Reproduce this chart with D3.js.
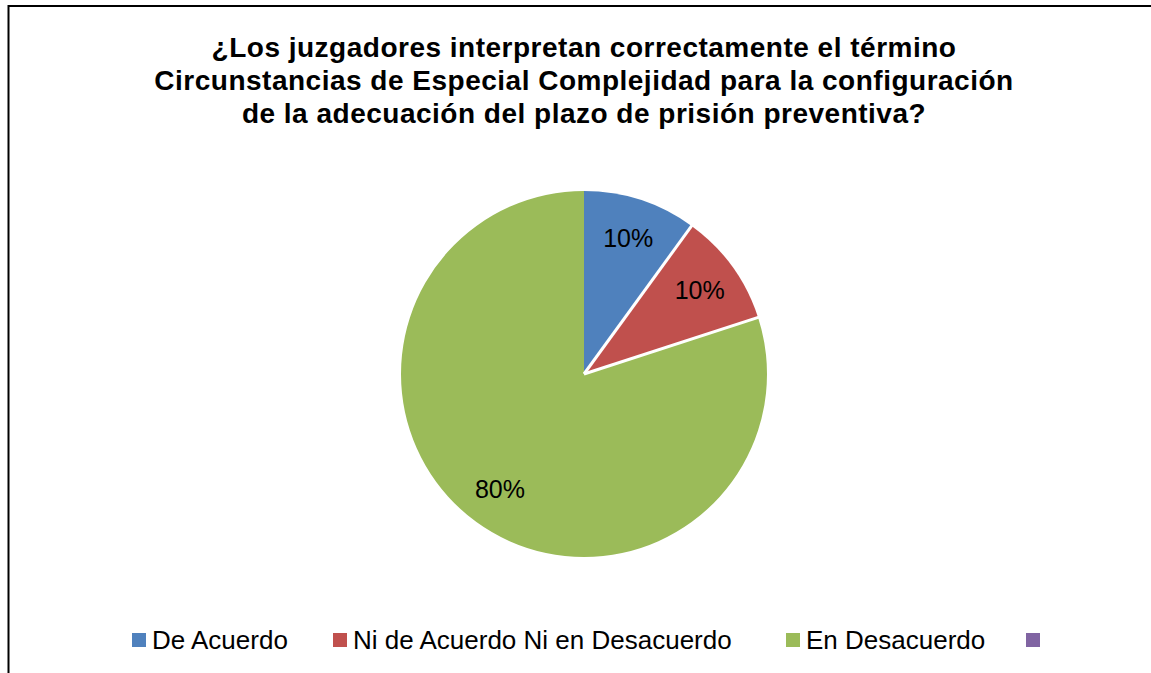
<!DOCTYPE html>
<html>
<head>
<meta charset="utf-8">
<script src="https://cdn.jsdelivr.net/npm/d3@7"></script>
<style>
  body { margin: 0; background: #fff; }
  text { font-family: "Liberation Sans", Arial, sans-serif; }
</style>
</head>
<body>
<div id="chart"></div>
<script>
// data
const categories = ["De Acuerdo", "Ni de Acuerdo Ni en Desacuerdo", "En Desacuerdo", ""]
const values = [10, 10, 80, 0]
const colors = ["#4F81BD", "#C0504D", "#9BBB59", "#8064A2"]
const titleLines = [
    "¿Los juzgadores interpretan correctamente el término",
    "Circunstancias de Especial Complejidad para la configuración",
    "de la adecuación del plazo de prisión preventiva?"
]

const dims = { width: 1151, height: 673 }
const center = { x: 584, y: 374 }
const radius = 183

const svg = d3.select("#chart").append("svg")
    .attr("width", dims.width)
    .attr("height", dims.height)

// chart frame (runs off the right and bottom edge)
svg.append("rect")
    .attr("x", 8.5).attr("y", 6)
    .attr("width", 1160).attr("height", 700)
    .attr("fill", "#fff")
    .attr("stroke", "#000")
    .attr("stroke-width", 2)

// title
svg.append("g").selectAll("text")
    .data(titleLines)
    .join("text")
    .attr("x", center.x)
    .attr("y", (d, i) => 57 + i * 33)
    .attr("text-anchor", "middle")
    .attr("font-size", 28)
    .attr("font-weight", "bold")
    .attr("letter-spacing", 0.5)
    .attr("fill", "#000")
    .text(d => d)

// pie
const table = categories.map((c, i) => ({ name: c, value: values[i], color: colors[i] }))
const pie = d3.pie().value(d => d.value).sort(null)
const arcs = pie(table)
const arc = d3.arc().innerRadius(0).outerRadius(radius)
const labelArc = d3.arc().innerRadius(143).outerRadius(143)

const pieG = svg.append("g").attr("transform", `translate(${center.x},${center.y})`)

pieG.selectAll("path")
    .data(arcs.filter(d => d.value > 0))
    .join("path")
    .attr("d", arc)
    .attr("fill", d => d.data.color)

// white separators between slices
pieG.selectAll("line")
    .data(arcs.filter(d => d.value > 0 && d.endAngle < 2 * Math.PI - 1e-6))
    .join("line")
    .attr("x1", 0).attr("y1", 0)
    .attr("x2", d => (radius + 1) * Math.sin(d.endAngle))
    .attr("y2", d => -(radius + 1) * Math.cos(d.endAngle))
    .attr("stroke", "#fff")
    .attr("stroke-width", 3)

pieG.selectAll("text")
    .data(arcs.filter(d => d.value > 0))
    .join("text")
    .attr("transform", d => `translate(${labelArc.centroid(d)})`)
    .attr("text-anchor", "middle")
    .attr("dy", "0.35em")
    .attr("font-size", 25)
    .attr("fill", "#000")
    .text(d => d.value + "%")

// legend
const legendX = [132, 333, 786, 1026]
const legend = svg.append("g").selectAll("g")
    .data(table)
    .join("g")
    .attr("transform", (d, i) => `translate(${legendX[i]},633)`)

legend.append("rect")
    .attr("width", 14).attr("height", 14)
    .attr("fill", d => d.color)

legend.append("text")
    .attr("x", 20)
    .attr("y", 15.5)
    .attr("font-size", 26)
    .attr("fill", "#000")
    .text(d => d.name)
</script>
</body>
</html>
